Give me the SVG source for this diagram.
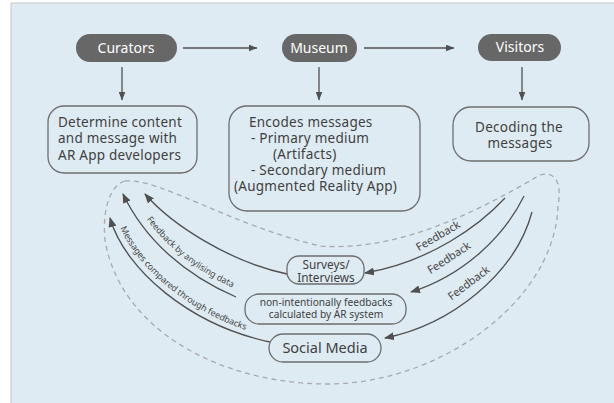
<svg xmlns="http://www.w3.org/2000/svg" width="614" height="403" viewBox="0 0 614 403">
<defs>
<style>
text{font-family:"Noto Sans","Open Sans","DejaVu Sans",sans-serif;fill:#3f3f3f}
.pill{fill:#676767}
.pt{fill:#ffffff;font-size:14px;text-anchor:middle}
.box{fill:none;stroke:#6e6e6e;stroke-width:1.3}
.t14{font-size:13.5px;letter-spacing:0.25px}
.c{text-anchor:middle}
.ln{fill:none;stroke:#505050;stroke-width:1.3}
.lbl{font-size:8.8px;fill:#454545}
.fb{font-size:11px;fill:#454545;text-anchor:middle}
.dash{fill:none;stroke:#a9a9ab;stroke-width:1.3;stroke-dasharray:5 4}
</style>
<marker id="ah" viewBox="0 0 10 8" refX="9" refY="4" markerWidth="10" markerHeight="8" markerUnits="userSpaceOnUse" orient="auto">
<path d="M0,0 L10,4 L0,8 Z" fill="#505050"/>
</marker>
<marker id="ahs" viewBox="0 0 9 7" refX="8.5" refY="3.5" markerWidth="9" markerHeight="7" markerUnits="userSpaceOnUse" orient="auto">
<path d="M0,0 L9,3.5 L0,7 Z" fill="#505050"/>
</marker>
<path id="pB" d="M129,190 C151,236 191,270 242,292"/>
<path id="pC" d="M115,214 C130,266 195,321 275,338"/>
</defs>
<rect x="0" y="0" width="614" height="403" fill="#ffffff"/>
<rect x="11" y="3" width="620" height="420" fill="#deebf2" stroke="#c4c8cb" stroke-width="1"/>

<g id="loop">
<path class="dash" d="M125,181 C160,178 230,225 320,246 C400,252 480,210 540,175 C556,170 562,185 558,205 C556,300 440,385 325,384 C220,383 120,330 105,240 C102,210 110,185 125,181 Z"/>
</g>

<g id="connectors">
<line class="ln" x1="183" y1="48" x2="257" y2="48" marker-end="url(#ahs)"/>
<line class="ln" x1="364" y1="48" x2="454" y2="48" marker-end="url(#ahs)"/>
<line class="ln" x1="122" y1="67" x2="122" y2="100" marker-end="url(#ahs)"/>
<line class="ln" x1="319" y1="67" x2="319" y2="100" marker-end="url(#ahs)"/>
<line class="ln" x1="522" y1="67" x2="522" y2="100" marker-end="url(#ahs)"/>
<path class="ln" d="M505,198 C480,225 430,262 365,273" marker-end="url(#ah)"/>
<path class="ln" d="M524,196 C505,235 465,275 411,292" marker-end="url(#ah)"/>
<path class="ln" d="M532,212 C515,275 450,325 385,338" marker-end="url(#ah)"/>
<path class="ln" d="M287,274 C230,262 172,225 145,194" marker-end="url(#ah)"/>
<path class="ln" d="M236,297 C185,275 145,240 123,194" marker-end="url(#ah)"/>
<path class="ln" d="M270,342 C190,325 125,270 110,218" marker-end="url(#ah)"/>
<text class="fb" transform="translate(440,239) rotate(-30)">Feedback</text>
<text class="fb" transform="translate(451,261) rotate(-33)">Feedback</text>
<text class="fb" transform="translate(471,286) rotate(-37)">Feedback</text>
<text class="lbl"><textPath href="#pB" startOffset="34">Feedback by anylising data</textPath></text>
<text class="lbl"><textPath href="#pC" startOffset="15">Messages compared through feedbacks</textPath></text>
</g>

<g id="curators">
<rect class="pill" x="76" y="34" width="101" height="28" rx="14"/>
<text class="pt" x="126" y="52.5">Curators</text>
</g>
<g id="museum">
<rect class="pill" x="282" y="34" width="75" height="28" rx="14"/>
<text class="pt" x="319" y="52.5">Museum</text>
</g>
<g id="visitors">
<rect class="pill" x="478" y="34" width="83" height="27" rx="13.5"/>
<text class="pt" x="520" y="52">Visitors</text>
</g>

<g id="determine">
<rect class="box" x="48" y="106" width="149" height="67" rx="16"/>
<text class="t14" x="58" y="127">Determine content</text>
<text class="t14" x="58" y="143.3">and message with</text>
<text class="t14" x="58" y="159.5">AR App developers</text>
</g>
<g id="encodes">
<rect class="box" x="229" y="106" width="191" height="105" rx="18"/>
<text class="t14" x="249" y="127">Encodes messages</text>
<text class="t14" x="251" y="143">- Primary medium</text>
<text class="t14" x="273" y="159">(Artifacts)</text>
<text class="t14" x="251" y="175">- Secondary medium</text>
<text class="t14" x="234" y="191">(Augmented Reality App)</text>
</g>
<g id="decoding">
<rect class="box" x="453" y="107" width="136" height="54" rx="18"/>
<text class="t14 c" x="519" y="132">Decoding the</text>
<text class="t14 c" x="520" y="147.5">messages</text>
</g>
<g id="surveys">
<rect class="box" x="287" y="256" width="77" height="28" rx="12"/>
<text class="c" font-size="11.8" x="326" y="268.5">Surveys/</text>
<text class="c" font-size="11.8" x="326" y="281.5">Interviews</text>
</g>
<g id="nonintentional">
<rect class="box" x="245" y="294" width="161" height="30" rx="14"/>
<text class="c" font-size="10.2" x="326" y="306">non-intentionally feedbacks</text>
<text class="c" font-size="10.2" x="326" y="318">calculated by AR system</text>
</g>
<g id="social">
<rect class="box" x="269" y="334" width="112" height="28" rx="14"/>
<text class="c" font-size="14.5" x="325" y="352.5">Social Media</text>
</g>
</svg>
